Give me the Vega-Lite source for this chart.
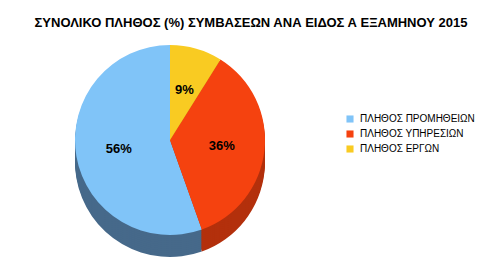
{
  "$schema": "https://vega.github.io/schema/vega-lite/v6.json",
  "autosize": {"type": "none"},
  "width": 340,
  "height": 200,
  "padding": {"left": 0, "top": 40, "right": 145, "bottom": 27},
  "background": "white",
  "title": {
    "text": "ΣΥΝΟΛΙΚΟ ΠΛΗΘΟΣ (%) ΣΥΜΒΑΣΕΩΝ ΑΝΑ ΕΙΔΟΣ Α ΕΞΑΜΗΝΟΥ 2015",
    "font": "Liberation Sans",
    "fontSize": 13,
    "fontWeight": "bold",
    "color": "#000000",
    "anchor": "middle",
    "dx": 81,
    "offset": 10
  },
  "data": {
    "values": [
      {"category": "ΠΛΗΘΟΣ  ΠΡΟΜΗΘΕΙΩΝ", "share": 0.56, "order": 3},
      {"category": "ΠΛΗΘΟΣ  ΥΠΗΡΕΣΙΩΝ", "share": 0.36, "order": 2},
      {"category": "ΠΛΗΘΟΣ ΕΡΓΩΝ", "share": 0.09, "order": 1}
    ]
  },
  "encoding": {
    "theta": {"field": "share", "type": "quantitative", "stack": true},
    "order": {"field": "order", "type": "quantitative"}
  },
  "resolve": {"scale": {"color": "independent"}, "legend": {"color": "independent"}},
  "layer": [
    {
      "encoding": {"color": {"field": "category", "type": "nominal", "scale": {"domain": ["ΠΛΗΘΟΣ  ΠΡΟΜΗΘΕΙΩΝ", "ΠΛΗΘΟΣ  ΥΠΗΡΕΣΙΩΝ", "ΠΛΗΘΟΣ ΕΡΓΩΝ"], "range": ["#46698a", "#b3300c", "#b8921a"]}, "legend": null}},
      "layer": [
        {"mark": {"type": "arc", "outerRadius": 95, "yOffset": 22}},
        {"mark": {"type": "arc", "outerRadius": 95, "yOffset": 20}},
        {"mark": {"type": "arc", "outerRadius": 95, "yOffset": 18}},
        {"mark": {"type": "arc", "outerRadius": 95, "yOffset": 16}},
        {"mark": {"type": "arc", "outerRadius": 95, "yOffset": 14}},
        {"mark": {"type": "arc", "outerRadius": 95, "yOffset": 12}},
        {"mark": {"type": "arc", "outerRadius": 95, "yOffset": 10}},
        {"mark": {"type": "arc", "outerRadius": 95, "yOffset": 8}},
        {"mark": {"type": "arc", "outerRadius": 95, "yOffset": 6}},
        {"mark": {"type": "arc", "outerRadius": 95, "yOffset": 4}},
        {"mark": {"type": "arc", "outerRadius": 95, "yOffset": 2}}
      ]
    },
    {
      "mark": {"type": "arc", "outerRadius": 95},
      "encoding": {
        "color": {
          "field": "category",
          "type": "nominal",
          "scale": {"domain": ["ΠΛΗΘΟΣ  ΠΡΟΜΗΘΕΙΩΝ", "ΠΛΗΘΟΣ  ΥΠΗΡΕΣΙΩΝ", "ΠΛΗΘΟΣ ΕΡΓΩΝ"], "range": ["#80c4f8", "#f5420f", "#f9cb22"]},
          "legend": {
            "title": null,
            "orient": "none",
            "legendX": 345,
            "legendY": 74,
            "symbolType": "square",
            "symbolSize": 50,
            "symbolStrokeWidth": 0,
            "labelFont": "Liberation Sans",
            "labelFontSize": 10,
            "labelLimit": 200,
            "labelColor": "#000000",
            "labelOffset": 5,
            "rowPadding": 5
          }
        }
      }
    },
    {
      "mark": {"type": "text", "radius": 52, "font": "Liberation Sans", "fontSize": 13, "fontWeight": "bold", "color": "#000000"},
      "encoding": {"text": {"field": "share", "type": "quantitative", "format": ".0%"}}
    }
  ]
}
